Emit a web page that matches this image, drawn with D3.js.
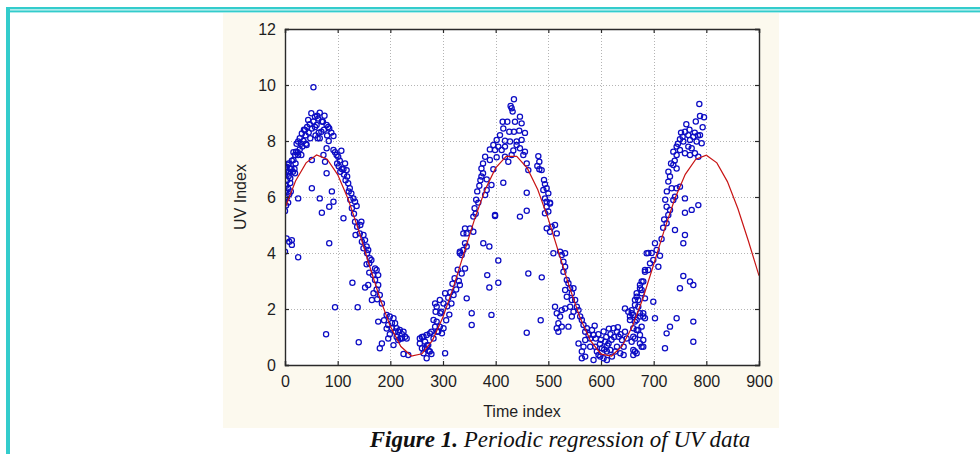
<!DOCTYPE html>
<html>
<head>
<meta charset="utf-8">
<script src="https://cdn.jsdelivr.net/npm/d3@7"></script>
<style>
  html, body { margin: 0; padding: 0; background: #ffffff; }
  svg { display: block; }
</style>
</head>
<body>
<svg id="chart" width="980" height="454"></svg>
<script>
// Observed UV index readings, [time index, UV index], grouped by yearly cycle
const cycle1 = [
  [0,5.5],[0,5.9],[0,6.2],[0,6.45],[0,6.8],[0,7.05],[0,4.05],
  [2,5.7],[2,6.4],[2,6.9],[3,4.52],[3,7.08],[4,6.0],[4,6.6],[5,7.15],
  [6,5.8],[6,6.3],[7,6.75],[7,7.2],[8,6.1],[8,6.9],[8,4.4],
  [10,6.5],[10,6.67],[10,7.0],[11,6.2],[12,7.02],[13,7.3],[13,4.29],[13,4.46],
  [15,6.9],[16,7.32],[16,7.6],[18,7.0],[19,6.85],[19,7.5],[20,7.2],[21,7.62],
  [22,7.9],[24,7.6],[25,7.98],[25,7.5],[25,5.95],[25,3.85],[28,7.7],[28,8.1],
  [30,7.9],[31,7.5],[32,8.27],[33,7.8],[35,8.0],[36,8.4],[38,8.39],[39,8.2],[40,7.9],
  [41,7.86],[42,8.5],[44,8.75],[45,8.3],[47,8.6],[48,8.1],
  [50,8.99],[51,8.45],[51,7.32],[51,6.31],[54,9.92],[54,8.7],
  [57,8.87],[57,8.5],[58,8.2],[60,8.57],[61,8.9],[62,8.1],[63,8.8],[64,8.3],
  [66,9.01],[66,8.1],[66,5.95],[69,8.33],[70,8.7],[70,5.44],
  [72,8.69],[73,7.5],[74,8.4],[75,8.9],[76,7.26],[78,1.1],
  [79,8.57],[79,7.74],[79,6.85],[80,8.2],[82,8.5],[83,8.0],
  [84,8.45],[84,5.65],[84,4.35],[88,8.3],[89,6.2],
  [92,8.18],[92,7.68],[92,5.83],[95,7.6],[95,2.06],[98,7.5],[99,7.2],
  [101,7.44],[102,7.1],[104,7.3],[105,6.9],[107,7.65],[108,7.0],
  [111,5.24],[111,7.0],[112,6.8],[114,7.2],[115,6.6],[117,6.96],[118,6.73],
  [120,6.49],[121,6.2],[123,6.31],[124,5.9],[126,6.13],[127,5.6],[128,2.94],
  [130,5.95],[131,5.4],[133,5.83],[133,5.12],[134,4.64],
  [136,5.68],[137,4.94],[138,2.06],[140,0.81],[142,4.7],[143,5.0],
  [145,5.12],[146,4.4],[149,4.64],[149,4.17],[152,4.46],[152,2.77],
  [155,4.23],[155,3.6],[156,3.99],[158,4.11],[158,2.86],
  [160,3.63],[160,3.3],[161,3.81],[164,3.75],[165,2.32],[167,3.21],[168,2.56],
  [171,3.45],[171,3.04],[174,3.39],[174,2.7],[175,2.35],
  [177,3.21],[177,2.86],[177,1.55],[180,2.5],[180,0.6],[184,0.77],[184,2.2],
  [188,1.6],[193,1.79],[193,1.3],[196,1.43],[196,0.95],[199,1.73],[199,1.1],
  [203,1.31],[203,1.5],[206,1.67],[206,0.71],[209,1.49],[209,1.2],
  [212,1.31],[212,1.0],[215,0.89],[215,1.2],[218,1.25],[219,0.95],
  [222,0.95],[222,1.1],[225,1.19],[225,0.39],[228,1.01],[231,0.95],[234,0.36],
  [256,0.95],[256,0.77],[260,1.0],[260,0.6],[263,1.01],[263,0.42],
  [266,0.6],[266,0.83],[269,1.07],[269,0.24],[270,0.71],[272,0.71],[273,0.5],
  [275,1.13],[275,0.48],[278,0.39],[278,1.19],[282,1.61],[282,0.95],
  [285,2.2],[285,1.37],[286,1.9],[288,2.08],[288,1.55],[289,1.19],[291,1.2],
  [294,2.32],[294,1.37],[295,1.85],[297,1.9],[298,1.13],
  [301,2.2],[301,1.31],[304,2.56],[304,0.42]
];

const cycle2 = [
  [306,1.6],[308,2.1],[310,2.4],[312,1.8],[314,2.6],[316,2.2],[318,2.9],[320,2.5],
  [322,3.1],[325,2.7],[328,3.4],[330,3.0],[332,4.05],[332,2.86],[332,3.99],
  [335.5,3.93],[335.5,3.27],[338.6,4.7],[338.6,4.11],[341.8,4.88],[341.8,4.35],[341.8,3.45],
  [345,4.7],[345,4.23],[345,2.38],[351.3,4.88],[354.5,1.85],[354.5,1.43],
  [357.6,5.3],[357.6,4.76],[360,5.6],[362,5.4],[363,5.9],[365,6.2],[367,5.8],
  [369,6.4],[371,6.6],[373,7.02],[373,6.73],[376,7.2],[376,6.85],[376.5,4.35],
  [380,7.44],[380,6.07],[383,6.63],[383,6.25],[384,3.21],[388,4.23],[388,2.77],
  [389,7.7],[389,7.32],[392,6.43],[392,1.79],[395.6,7.86],[395.6,6.99],
  [398.8,7.68],[398.8,5.36],[398.8,5.32],[401.9,8.04],[401.9,7.42],
  [405,7.8],[405,3.73],[405,2.94],[408.2,8.21],[411.4,7.68],
  [413.3,8.69],[414.5,8.45],[414.5,6.51],[417.7,8.01],[417.7,7.8],[417.7,7.44],
  [422.1,8.69],[424,7.26],[425.9,8.33],[427.2,7.98],[428.4,9.25],[430.3,9.17],[430.3,7.5],
  [432.2,9.05],[433.5,7.66],[434.7,9.49],[434.7,8.33],[436.7,8.69],
  [439.8,7.98],[439.8,7.86],[444.8,8.37],[446.1,8.87],[446.1,7.74],[446.1,5.3],
  [449.3,8.63],[449.3,8.04],[452.5,7.5],[455.6,8.29],[455.6,7.62],
  [459,7.2],[459,6.15],[459,5.51],[459,1.15],[462,6.96],[462,3.27],
  [479.1,7.11],[481,7.46],[482.9,7.26],[482.9,6.99],[485.5,1.6],[487.3,6.96],[487.5,3.13],
  [490.5,6.25],[491.8,6.61],[493.6,6.46],[493.6,5.95],[493.6,5.42],
  [496.8,6.31],[496.8,5.65],[496.9,5.83],[496.9,4.88],[500,6.13],[500,5.48],
  [503.2,5.8],[503.2,5.77],[503.2,4.76],[506.4,4.94],[509.6,3.99],
  [512.7,5.0],[512.7,2.08],[516,4.7],[516,1.85],[516,1.31],[519.1,1.49],[519.1,1.19],
  [522.3,4.05],[522.3,1.73],[525.5,3.93],[525.5,1.96],[525.5,1.37],
  [528.7,3.69],[528.7,3.33],[531.9,3.99],[531.9,3.51],[531.9,2.68],[531.9,2.02],
  [535.1,3.04],[535.1,2.44],[538.2,2.92],[538.2,1.37],[541.4,2.74],[541.4,2.08],
  [544.6,2.56],[544.6,2.32],[544.6,1.73],[547.8,2.74],[547.8,1.9],
  [550.9,2.32],[554.1,2.08],[557.3,1.96],[557.3,0.77],[560.5,1.73],
  [563.6,1.61],[563.6,0.48],[563.6,0.24],[566.8,1.43],[566.8,0.65],
  [570,1.19],[570,0.89],[570,0.3],[573.1,1.31],[576.3,1.07],
  [579.5,0.95],[579.5,0.65],[583,1.25],[585.8,1.07],[585.8,0.18],[588,1.4],
  [589,0.65],[590,0.95],[592.2,0.48],[595,1.1],[595.3,0.36],[598,0.75],[598.5,0.3],
  [600,0.9],[601.7,0.6],[604.9,0.24],[605,1.2],[606,0.55],[608,0.83],
  [610,1.0],[611.2,0.18],[611.2,0.48],[612,0.7],[614.4,0.77],[615,1.3],
  [617.6,0.54],[618,1.1],[620,0.9],[620.8,0.3],[623.9,1.31],[625,1.0],
  [627.1,0.48],[630.3,1.19],[630.3,0.65],[632,1.35],[633.5,1.01],
  [636.6,0.42],[637,1.1],[639.8,0.89],[643,0.65],[643,0.36],
  [645.6,2.02],[645.6,1.19],[648.7,0.95],[651.8,1.9],[655,1.73],[655,1.61],
  [658.2,1.96],[658.2,1.85],[658.2,0.83],[661.3,1.79],[661.3,1.31],[661.3,1.01],
  [661.3,0.54],[661.3,0.36],[664.5,2.32],[664.5,2.14],[664.5,1.55],[664.5,0.95],[664.5,0.48],
  [667.7,2.56],[667.7,2.44],[667.7,1.61],[667.7,1.25],[667.7,0.42],
  [670.8,2.32],[670.8,2.08],[670.8,1.25],[674,2.86],[674,2.74],[674,1.85],[674,1.73],
  [674,1.07],[674,0.77],[677.2,2.98],[677.2,2.68],[677.2,2.56],[677.2,1.37],[677.2,0.65],
  [680.3,2.98],[680.3,1.85],[680.3,1.73],[680.3,0.89],[680.3,0.65],
  [683.5,3.39],[683.5,3.33],[683.5,2.38],[683.5,1.67],[686.7,3.99],
  [689.8,4.0],[689.8,3.39],[693,3.63],[696.2,4.0],[699.3,3.75],[699.3,2.26]
];

const cycle3 = [
  [702.5,4.35],[702.5,1.67],[705.7,4.11],[708.9,3.51],[712,3.9],[715,4.5],
  [718,4.9],[720,5.2],[721.5,0.6],[722,5.9],[724.6,5.65],[724.6,5.06],[724.6,1.13],
  [725,6.2],[727.8,6.55],[727.8,5.36],[728,6.9],[731,6.73],[731,5.54],[731,1.37],
  [733,7.2],[734.1,6.31],[737.3,7.62],[737.3,7.14],[737.3,5.89],[740,7.3],
  [740.5,6.01],[740.5,4.82],[743.6,7.8],[743.6,7.5],[743.6,7.02],[743.6,6.31],[743.6,1.67],
  [746,7.9],[749.9,8.06],[749.9,7.68],[749.9,6.37],[749.9,2.74],[752,8.3],
  [755,8.15],[756.3,7.98],[756.3,4.35],[756.3,3.18],[759.4,8.33],[759.4,7.56],
  [759.4,5.95],[759.4,5.44],[759.4,4.64],[762,8.6],[765.8,8.21],[765.8,7.8],
  [768,8.4],[769,8.04],[769,7.5],[769,2.98],[772.2,7.74],[772.2,5.54],
  [775.3,8.15],[775.3,2.86],[775.3,1.55],[775.3,0.83],[778,8.3],[778.4,7.56],
  [780,8.7],[781.6,7.98],[784,8.2],[784.8,7.44],[784.8,5.71],
  [786.7,9.32],[788,8.89],[788,8.21],[791.2,7.92],[793,8.49],[795.6,8.85]
];

// Fitted periodic regression curve, sampled every 20 time units
const fitTime = d3.range(0, 901, 20);
const fitUV = [
  5.60, 6.57, 7.22, 7.50, 7.35, 6.80, 5.92, 4.80, 3.57, 2.39,
  1.38, 0.66, 0.32, 0.40, 0.88, 1.71, 2.79, 4.01, 5.21, 6.26,
  7.04, 7.45, 7.45, 7.03, 6.26, 5.21, 4.00, 2.79, 1.70, 0.87,
  0.39, 0.32, 0.67, 1.39, 2.40, 3.59, 4.81, 5.93, 6.81, 7.35,
  7.49, 7.22, 6.55, 5.58, 4.42, 3.19
];

const xTicks = [0, 100, 200, 300, 400, 500, 600, 700, 800, 900];
const yTicks = [0, 2, 4, 6, 8, 10, 12];

const xLabel = "Time index";
const yLabel = "UV Index";
const captionBold = "Figure 1.";
const captionRest = " Periodic regression of UV data";

const svg = d3.select("#chart");
const teal = "#33cccc";

// Page frame: double rule along the top, heavy rule on the left
svg.append("rect").attr("x", 6).attr("y", 7).attr("width", 974).attr("height", 2.4).attr("fill", teal);
svg.append("rect").attr("x", 10).attr("y", 10.4).attr("width", 970).attr("height", 2).attr("fill", teal);
svg.append("rect").attr("x", 6).attr("y", 7).attr("width", 4).attr("height", 447).attr("fill", teal);

// Cream figure panel
svg.append("rect").attr("x", 223).attr("y", 13).attr("width", 556).attr("height", 415).attr("fill", "#fcf9ee");

const plot = { left: 285, right: 759, top: 29, bottom: 365 };
const x = d3.scaleLinear().domain([0, 900]).range([plot.left, plot.right]);
const y = d3.scaleLinear().domain([0, 12]).range([plot.bottom, plot.top]);

// Plot area background
svg.append("rect")
  .attr("x", plot.left).attr("y", plot.top)
  .attr("width", plot.right - plot.left).attr("height", plot.bottom - plot.top)
  .attr("fill", "#ffffff");

// Dotted grid
const grid = svg.append("g").attr("stroke", "#b4b4b4").attr("stroke-width", 1).attr("stroke-dasharray", "1,2");
grid.selectAll("line.v").data(xTicks.slice(1, -1)).join("line")
  .attr("x1", d => Math.round(x(d)) + 0.5).attr("x2", d => Math.round(x(d)) + 0.5)
  .attr("y1", plot.top).attr("y2", plot.bottom);
grid.selectAll("line.h").data(yTicks.slice(1, -1)).join("line")
  .attr("y1", d => Math.round(y(d)) + 0.5).attr("y2", d => Math.round(y(d)) + 0.5)
  .attr("x1", plot.left).attr("x2", plot.right);

// Clip marks to the plot area
svg.append("defs").append("clipPath").attr("id", "plotClip")
  .append("rect").attr("x", plot.left).attr("y", plot.top)
  .attr("width", plot.right - plot.left).attr("height", plot.bottom - plot.top);

const marks = svg.append("g").attr("clip-path", "url(#plotClip)");

// Observations as open circles
const observations = cycle1.concat(cycle2, cycle3);
marks.append("g")
  .selectAll("circle").data(observations).join("circle")
  .attr("cx", d => x(d[0])).attr("cy", d => y(d[1])).attr("r", 2.6)
  .attr("fill", "none").attr("stroke", "#0c0cc4").attr("stroke-width", 1.25);

// Fitted curve
const line = d3.line().x((d, i) => x(fitTime[i])).y(d => y(d));
marks.append("path").datum(fitUV)
  .attr("d", line).attr("fill", "none")
  .attr("stroke", "#c81414").attr("stroke-width", 1.2);

// Axes: labels outside, short ticks pointing inward on all four sides
const fontFamily = "'Liberation Sans', Arial, sans-serif";
const axisBottom = d3.axisBottom(x).tickValues(xTicks).tickSize(-4).tickPadding(11);
const axisLeft = d3.axisLeft(y).tickValues(yTicks).tickSize(-4).tickPadding(9);
const axisTop = d3.axisTop(x).tickValues(xTicks).tickSize(-4).tickFormat("");
const axisRight = d3.axisRight(y).tickValues(yTicks).tickSize(-4).tickFormat("");

function styleAxis(g) {
  g.select(".domain").attr("stroke", "#2a2a2a").attr("stroke-width", 1.4);
  g.selectAll(".tick line").attr("stroke", "#2a2a2a").attr("stroke-width", 1.2);
  g.selectAll(".tick text").attr("fill", "#1e1e1e").style("font-family", fontFamily).style("font-size", "16px");
}

svg.append("g").attr("transform", `translate(0,${plot.bottom})`).call(axisBottom).call(styleAxis);
svg.append("g").attr("transform", `translate(${plot.left},0)`).call(axisLeft).call(styleAxis);
svg.append("g").attr("transform", `translate(0,${plot.top})`).call(axisTop).call(styleAxis);
svg.append("g").attr("transform", `translate(${plot.right},0)`).call(axisRight).call(styleAxis);

// Axis titles
svg.append("text")
  .attr("x", (plot.left + plot.right) / 2).attr("y", 417)
  .attr("text-anchor", "middle")
  .style("font-family", fontFamily).style("font-size", "16px").attr("fill", "#1e1e1e")
  .text(xLabel);

svg.append("text")
  .attr("transform", `translate(246,${(plot.top + plot.bottom) / 2}) rotate(-90)`)
  .attr("text-anchor", "middle")
  .style("font-family", fontFamily).style("font-size", "16px").attr("fill", "#1e1e1e")
  .text(yLabel);

// Caption
const caption = svg.append("text")
  .attr("x", 560).attr("y", 447)
  .attr("text-anchor", "middle")
  .style("font-family", "'Liberation Serif', 'Times New Roman', serif")
  .style("font-size", "23px").style("font-style", "italic").attr("fill", "#111");
caption.append("tspan").style("font-weight", "bold").text(captionBold);
caption.append("tspan").text(captionRest);
</script>
</body>
</html>
